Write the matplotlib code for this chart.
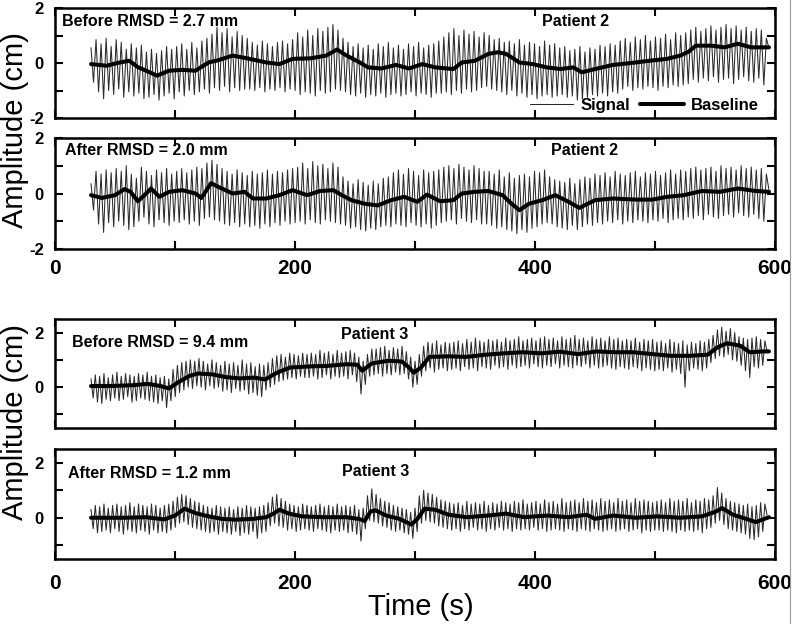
import matplotlib
matplotlib.use('Agg')
import matplotlib.pyplot as plt
from matplotlib.lines import Line2D
import numpy as np

plt.rcParams['font.family'] = ['Liberation Sans', 'DejaVu Sans']

# ---------------- data ----------------
t_start = 30.0
p2_step = 2.1   # s between successive signal extremes (patient 2)
p3_step = 1.8   # s between successive signal extremes (patient 3)

p2_before_signal = [
    0.55, -0.7, 0.85, -1.05, 0.7, -1.3, 0.9, -1.0, 0.6, -1.15, 0.85, -0.95, 0.75, -1.25, 0.5,
    -1.05, 0.7, -1.2, 0.55, -1.1, 0.65, -1.3, 0.4, -1.25, 0.5, -1.15, 0.35, -1.35, 0.45, -1.2, 0.6, -1.1, 0.5, -1.3,
    0.6, -1.05, 0.7, -1.2, 0.5, -1.0, 0.75, -1.15, 0.55, -1.05, 0.8, -0.95, 0.9, -1.1,
    1.05, -0.9, 1.3, -1.0, 1.1, -0.85, 1.25, -1.05, 0.95, -0.9, 1.15, -1.0, 1.0, -0.95, 0.9,
    -0.95, 0.75, -1.0, 0.65, -0.9, 0.8, -1.05, 0.7, -0.95, 0.6, -1.0, 0.75, -0.9, 0.8, -1.05, 0.7, -0.95, 0.85,
    -1.0, 1.1, -1.15, 0.95, -1.05, 1.2, -1.1, 1.0, -1.2, 1.25, -1.0, 1.15, -1.1, 1.3, -1.05, 1.4, -0.95, 1.2, -1.0,
    0.9, -1.05, 0.75, -1.15, 0.6, -1.2, 0.7, -1.1, 0.55, -1.25, 0.65, -1.15, 0.5, -1.2, 0.7, -1.1, 0.6, -1.25, 0.75,
    -1.15, 0.55, -1.1, 0.65, -1.2, 0.5, -1.15, 0.7, -1.05, 0.6, -1.2, 0.75, -1.1, 0.55, -1.15, 0.65, -1.25, 0.7, -1.1,
    0.8, -1.1, 0.95, -1.05, 1.1, -1.15, 1.25, -1.0, 1.0, -1.1, 1.2, -0.95, 1.05, -1.05, 1.15, -1.0, 0.95, -0.9, 1.1,
    -0.85, 1.0, -0.95, 0.85, -1.0, 0.9, -1.05, 0.75, -1.15, 0.8, -1.0, 0.7, -1.2, 0.85, -1.1, 0.65, -1.25, 0.75,
    -1.15, 0.7, -1.3, 0.6, -1.2, 0.8, -1.15, 0.65, -1.25, 0.7, -1.2,
    0.55, -1.15, 0.6, -1.25, 0.45, -1.2, 0.5, -1.35, 0.6, -1.3, 0.4, -1.25, 0.55, -1.15, 0.5, -1.2, 0.65, -1.1,
    0.6, -1.2, 0.7, -1.05, 0.65, -1.1,
    0.8, -0.95, 0.9, -0.85, 0.75, -1.0, 0.95, -0.9, 0.85, -0.95, 1.0, -0.85, 0.8, -0.9, 0.95, -1.0, 0.9, -0.85,
    1.05, -0.9, 0.85, -0.8, 1.1, -0.85,
    1.0, -0.8, 1.1, -0.75, 1.2, -0.6, 1.3, -0.7, 1.15, -0.55, 1.25, -0.65, 1.35, -0.5, 1.2, -0.7, 1.3, -0.6,
    1.4, -0.55, 1.25, -0.75, 1.35, -0.6, 1.2, -0.5, 1.3, -0.65, 1.15, -0.7, 1.25, -0.55, 1.2, -0.8, 0.9, 0.55,
]
p2_before_base_t = [30, 43, 52, 58, 62, 69, 77, 85, 95, 106, 117, 128, 136, 148, 160, 176, 187, 198, 213, 226,
                    235, 243, 254, 261, 272, 284, 295, 306, 317, 332, 339, 350, 361, 369, 376, 387, 398, 410,
                    421, 432, 439, 450, 465, 480, 495, 510, 521, 528, 534, 547, 558, 569, 580, 595]
p2_before_base = [-0.04, -0.1, 0.0, 0.05, 0.08, -0.15, -0.3, -0.46, -0.28, -0.25, -0.28, 0.02, 0.1, 0.27, 0.17,
                  0.02, -0.04, 0.15, 0.17, 0.27, 0.49, 0.27, 0.02, -0.16, -0.2, -0.07, -0.2, -0.04, -0.16, -0.22,
                  0.02, 0.08, 0.33, 0.39, 0.33, 0.02, -0.04, -0.16, -0.22, -0.16, -0.34, -0.22, -0.07, 0.0, 0.08,
                  0.15, 0.27, 0.41, 0.63, 0.63, 0.57, 0.7, 0.57, 0.57]

p2_after_signal = [
    0.35, -0.6, 0.8, -1.1, 0.7, -1.4, 0.85, -1.05, 0.75, -1.2, 0.9, -1.0, 0.8, -1.15, 1.0,
    -1.3, 0.7, -1.2, 0.55, -1.0, 0.95, -0.85, 0.8, -1.1, 0.65, -1.2, 0.85, -0.95, 0.75, -1.05, 0.9, -1.15, 0.7, -1.0,
    0.8, -1.05, 0.9, -0.95, 0.75, -1.1, 0.85, -1.0, 0.95, -1.15, 0.9, -0.9, 1.1, -0.85, 1.2, -0.95, 1.05, -1.0, 0.9,
    -1.1, 0.8, -1.15, 0.7, -1.05, 0.85, -1.2, 0.75, -1.1, 0.65, -1.2, 0.8, -1.15, 0.7, -1.25, 0.75, -1.1, 0.85,
    -1.2, 0.7, -1.05, 0.8, -1.15, 0.75, -1.0, 0.85, -1.1, 0.9,
    -1.05, 0.95, -1.0, 1.1, -1.1, 0.9, -0.95, 1.15, -1.05, 1.0, -1.1, 1.05, -0.95, 0.9, -1.0, 1.1, -1.05, 0.95, -1.1,
    0.6, -1.15, 0.45, -1.25, 0.35, -1.2, 0.5, -1.3, 0.4, -1.35, 0.3, -1.25, 0.45, -1.3, 0.35, -1.2, 0.55, -1.15, 0.6,
    -1.2, 0.75, -1.1, 0.85, -1.15, 0.7, -1.2, 0.9, -1.05, 0.8, -1.15, 0.65, -1.2, 0.85, -1.1, 0.75, -1.25, 0.8, -1.15,
    0.85, -1.05, 0.95, -1.0, 1.0, -0.95, 0.9, -1.1, 1.05, -0.9, 0.95, -1.0, 0.85, -1.05, 1.0, -0.95, 0.9, -1.1, 0.8,
    -1.1, 0.8, -1.15, 0.7, -1.25, 0.85, -1.2, 0.6, -1.3, 0.75, -1.35, 0.55, -1.45, 0.65, -1.3, 0.7, -1.4, 0.6,
    -1.25, 0.8, -1.2, 0.75, -1.1, 0.85,
    -1.05, 0.6, -1.1, 0.5, -1.2, 0.45, -1.25, 0.4, -1.3, 0.55, -1.15, 0.35, -1.3, 0.5, -1.2, 0.6, -1.1, 0.55, -1.15,
    0.7, -1.05, 0.65, -1.1, 0.75, -1.0, 0.6, -1.05, 0.8, -0.95, 0.7, -1.1, 0.65, -1.0, 0.75, -1.05, 0.8, -0.95,
    0.6, -1.0, 0.75, -1.05, 0.7, -0.95, 0.8, -1.0, 0.65, -0.9, 0.75, -1.05, 0.85, -0.95, 0.7, -0.9,
    0.85, -0.95, 0.8, -0.85, 0.9, -0.9, 0.95, -0.8, 0.85, -0.95, 0.9, -0.75, 0.95, -0.85, 0.8, -0.9, 1.0, -0.8,
    0.9, -0.75, 0.95, -0.85, 0.85, -0.7, 1.0, -0.8, 0.9, -0.85, 0.95, -0.75, 0.85, -0.9, 0.9, -1.0, 0.7, 0.15,
]
p2_after_base_t = [30, 39, 50, 58, 63, 69, 76, 80, 87, 95, 106, 117, 122, 130, 139, 148, 158, 165, 176, 187,
                   198, 210, 221, 232, 239, 247, 258, 269, 280, 291, 302, 310, 321, 332, 339, 350, 361, 373,
                   380, 387, 395, 406, 417, 428, 437, 450, 465, 484, 498, 510, 524, 539, 554, 569, 584, 595]
p2_after_base = [-0.06, -0.16, -0.06, 0.16, 0.06, -0.28, 0.0, 0.18, -0.12, 0.06, 0.12, 0.0, -0.16, 0.37, 0.18,
                 0.0, 0.06, -0.18, -0.18, -0.06, 0.12, -0.06, 0.09, 0.12, -0.06, -0.24, -0.37, -0.43, -0.24,
                 -0.12, -0.3, -0.04, -0.28, -0.24, 0.0, 0.06, 0.09, -0.06, -0.35, -0.6, -0.37, -0.24, -0.06,
                 -0.3, -0.52, -0.24, -0.18, -0.22, -0.22, -0.12, -0.06, 0.09, 0.06, 0.18, 0.09, 0.06]

p3_before_signal = [
    0.3, -0.4, 0.45, -0.55, 0.4, -0.6, 0.5, -0.45, 0.35, -0.5, 0.45, -0.4, 0.55, -0.5, 0.4, -0.45, 0.5, -0.35,
    0.45, -0.55, 0.4, -0.5, 0.5, -0.4, 0.45, -0.45, 0.55, -0.5, 0.4, -0.55, 0.45, -0.6, 0.35, -0.5, 0.4, -0.75, 0.3,
    -0.5, 0.65, -0.35, 0.8, -0.2, 0.9, -0.1, 0.95, 0.0, 1.0, -0.05, 0.95, 0.05, 1.05,
    0.0, 0.95, -0.1, 0.85, 0.05, 1.0, -0.05, 0.9, 0.0, 0.8, -0.15, 0.95, -0.1, 0.85, -0.2, 0.9, -0.05, 0.8, -0.15,
    1.0, -0.1, 0.85, -0.25, 0.9, -0.2, 0.75, -0.3, 0.85, -0.35, 0.8,
    -0.1, 0.9, 0.0, 1.05, 0.1, 1.15, 0.2, 1.2, 0.25, 1.1, 0.3, 1.25, 0.35, 1.2, 0.3, 1.15, 0.4, 1.25, 0.35, 1.2,
    0.35, 1.25, 0.4, 1.2, 0.3, 1.35, 0.35, 1.25, 0.45, 1.3, 0.3, 1.2, 0.4, 1.35, 0.35, 1.25, 0.4, 1.3, 0.3, 1.35,
    0.45, 1.25,
    0.2, 1.1, -0.25, 0.95, 0.1, 1.2, 0.4, 1.4,
    0.45, 1.4, 0.5, 1.45, 0.4, 1.5, 0.5, 1.35, 0.45, 1.45, 0.55, 1.4, 0.45, 1.5, 0.5,
    1.3, 0.3, 1.1, 0.0, 0.95, 0.1, 1.2, 0.4,
    1.5, 0.6, 1.65, 0.7, 1.6, 0.55, 1.7, 0.65, 1.55, 0.7, 1.65, 0.6, 1.6,
    0.65, 1.65, 0.7, 1.7, 0.6, 1.6, 0.75, 1.75, 0.65, 1.65, 0.7, 1.8, 0.6, 1.7, 0.75, 1.65, 0.7, 1.75, 0.65, 1.7,
    0.8, 1.75, 0.7, 1.65, 0.75, 1.8, 0.65, 1.7, 0.8, 1.75, 0.7, 1.85, 0.75, 1.7, 0.8, 1.75, 0.7, 1.8, 0.85, 1.7,
    0.75, 1.8, 0.7, 1.85, 0.8, 1.75, 0.75, 1.8, 0.85, 1.7, 0.7, 1.85, 0.8, 1.75, 0.75, 1.8, 0.7, 1.9, 0.8, 1.75,
    0.75, 1.8, 0.85, 1.7, 0.7, 1.85, 0.8, 1.75, 0.7, 1.8, 0.75, 1.7, 0.8, 1.85, 0.7, 1.75, 0.65, 1.8, 0.75, 1.7,
    0.7, 1.75, 0.65, 1.7, 0.75, 1.8, 0.7, 1.65, 0.6, 1.75, 0.7, 1.7, 0.65, 1.75, 0.6,
    1.65, 0.65, 1.7, 0.6, 1.6, 0.7, 1.75, 0.55, 1.65, 0.65, 1.6, 0.5, 1.7, 0.0, 1.55, 0.6, 1.65, 0.7, 1.6, 0.65,
    1.7, 0.6, 1.65, 0.7, 1.75,
    0.9, 1.9, 1.05, 2.1, 1.15, 2.2, 1.1, 2.05, 1.2, 2.15, 1.0, 2.0, 0.95, 1.85, 0.8, 1.8, 0.6, 1.75, 0.35, 1.8,
    0.75, 1.85, 0.7, 1.75, 0.8, 1.7, 1.3,
]
p3_before_base_t = [30, 46, 65, 77, 88, 95, 102, 112, 119, 131, 142, 154, 166, 175, 185, 196, 212, 227, 243, 252,
                    256, 264, 278, 289, 295, 299, 305, 312, 328, 343, 359, 374, 390, 405, 421, 436, 451, 467,
                    482, 498, 513, 529, 544, 552, 560, 571, 579, 590, 595]
p3_before_base = [0.04, 0.04, 0.07, 0.12, 0.04, -0.05, 0.16, 0.41, 0.5, 0.47, 0.37, 0.32, 0.35, 0.28, 0.53,
                  0.72, 0.76, 0.78, 0.84, 0.82, 0.6, 0.87, 0.97, 0.94, 0.72, 0.53, 0.72, 1.11, 1.13, 1.11, 1.19,
                  1.24, 1.28, 1.24, 1.3, 1.21, 1.31, 1.28, 1.28, 1.21, 1.15, 1.15, 1.19, 1.46, 1.61, 1.52, 1.28,
                  1.31, 1.31]

p3_after_signal = [
    0.3, -0.4, 0.45, -0.55, 0.4, -0.5, 0.5, -0.45, 0.35, -0.55, 0.45, -0.4, 0.5, -0.5, 0.4, -0.6, 0.45, -0.45,
    0.55, -0.5, 0.4, -0.55, 0.5, -0.45, 0.45, -0.5, 0.4, -0.6, 0.5, -0.45, 0.45, -0.55, 0.35, -0.5, 0.45, -0.55, 0.5,
    -0.45, 0.6, -0.35, 0.75, -0.2, 0.85, -0.15, 0.8, -0.25, 0.7, -0.35, 0.6, -0.4, 0.55,
    -0.45, 0.45, -0.5, 0.4, -0.55, 0.35, -0.5, 0.45, -0.6, 0.4, -0.5, 0.35, -0.55, 0.4, -0.6, 0.3, -0.5, 0.4,
    -0.65, 0.35, -0.55, 0.45, -0.6, 0.4, -0.5, 0.35, -0.75, 0.4, -0.55, 0.45,
    -0.5, 0.55, -0.3, 0.75, -0.2, 0.85, -0.3, 0.7, -0.35, 0.6, -0.45, 0.5, -0.4, 0.45, -0.5, 0.4, -0.45, 0.5,
    -0.4, 0.45,
    -0.45, 0.4, -0.5, 0.45, -0.4, 0.5, -0.45, 0.4, -0.5, 0.45, -0.55, 0.4, -0.45, 0.5, -0.5, 0.4, -0.45, 0.45,
    -0.55, 0.4, -0.5, 0.45,
    -0.6, 0.3, -0.85, 0.35, -0.4, 0.8, -0.1, 1.05,
    -0.15, 0.85, -0.2, 0.7, -0.3, 0.6, -0.35, 0.55, -0.45, 0.45, -0.5, 0.4, -0.45, 0.35, -0.55,
    0.3, -0.6, 0.2, -0.75, 0.35, -0.5, 0.8, -0.2,
    1.0, -0.1, 0.9, -0.15, 0.85, -0.2, 0.75, -0.3, 0.65, -0.35, 0.6, -0.4, 0.55,
    -0.45, 0.5, -0.4, 0.55, -0.5, 0.45, -0.4, 0.6, -0.45, 0.5, -0.35, 0.55, -0.45, 0.5, -0.4, 0.6, -0.5, 0.45,
    -0.4, 0.55,
    -0.45, 0.5, -0.35, 0.6, -0.45, 0.55, -0.4, 0.5, -0.5, 0.6, -0.4, 0.55, -0.45, 0.65, -0.4, 0.5, -0.45, 0.55,
    -0.35, 0.6,
    -0.45, 0.5, -0.4, 0.65, -0.5, 0.55, -0.45, 0.6, -0.4, 0.5, -0.45, 0.7, -0.5, 0.55, -0.4, 0.6, -0.45, 0.65,
    -0.5, 0.55,
    -0.4, 0.7, -0.45, 0.6, -0.5, 0.65, -0.4, 0.55, -0.45, 0.7, -0.5, 0.6, -0.45, 0.65, -0.4, 0.55, -0.5, 0.7,
    -0.45, 0.6,
    -0.4, 0.65, -0.5, 0.55, -0.45, 0.7, -0.4, 0.6, -0.55, 0.65, -0.45, 0.6, -0.5, 0.55, -0.45,
    0.6, -0.45, 0.65, -0.5, 0.55, -0.45, 0.7, -0.5, 0.6, -0.55, 0.65, -0.45, 0.6, -0.5, 0.7, -0.45, 0.55, -0.5,
    0.65, -0.45, 0.6, -0.55, 0.7, -0.4, 0.65,
    -0.35, 0.8, -0.2, 1.1, -0.1, 0.9, -0.25, 0.7, -0.4, 0.6, -0.45, 0.55, -0.5, 0.5, -0.55, 0.45, -0.6, 0.5,
    -0.75, 0.4, -0.8, 0.45, -0.7, 0.55, -0.5, 0.5, 0.1,
]
p3_after_base_t = [30, 58, 76, 91, 100, 108, 117, 128, 139, 150, 165, 176, 182, 187, 195, 206, 224, 243, 254,
                   258, 263, 267, 276, 287, 297, 302, 308, 317, 328, 343, 361, 376, 391, 410, 428, 443, 450,
                   465, 484, 502, 521, 539, 550, 556, 565, 576, 584, 595]
p3_after_base = [0.0, 0.0, 0.02, -0.06, 0.08, 0.33, 0.17, 0.05, -0.04, -0.07, -0.04, 0.02, 0.15, 0.29, 0.15,
                 0.05, 0.02, 0.02, -0.05, -0.12, 0.23, 0.27, 0.08, -0.04, -0.25, -0.04, 0.33, 0.29, 0.11, 0.02,
                 0.08, 0.15, 0.02, 0.08, 0.02, 0.11, -0.04, 0.08, 0.0, 0.05, 0.0, 0.05, 0.21, 0.35, 0.11, -0.04,
                 -0.16, 0.02]

rmsd_labels = ["Before RMSD = 2.7 mm", "After RMSD = 2.0 mm", "Before RMSD = 9.4 mm", "After RMSD = 1.2 mm"]
patient_labels = ["Patient 2", "Patient 2", "Patient 3", "Patient 3"]
x_ticks = [0, 100, 200, 300, 400, 500, 600]
x_ticklabels = ["0", "", "200", "", "400", "", "600"]
p2_yticks = [-2, -1, 0, 1, 2]
p2_yticklabels = ["-2", "", "0", "", "2"]
p3_yticks = [-1, 0, 1, 2]
p3_yticklabels = ["", "0", "", "2"]

# ---------------- figure ----------------
fig = plt.figure(figsize=(7.93, 6.24), dpi=100)

L, W = 55 / 793, 720 / 793
def frac(top, bottom):
    return [L, 1 - bottom / 624, W, (bottom - top) / 624]

panels = [
    dict(rect=frac(8, 118), sig=p2_before_signal, step=p2_step, bt=p2_before_base_t, bv=p2_before_base,
         ylim=(-2, 2), yt=p2_yticks, ytl=p2_yticklabels, xlab=False,
         txt=(0.010, 0.877), pat=(0.676, 0.877), legend=True),
    dict(rect=frac(138, 249), sig=p2_after_signal, step=p2_step, bt=p2_after_base_t, bv=p2_after_base,
         ylim=(-2, 2), yt=p2_yticks, ytl=p2_yticklabels, xlab=True, xpad=7,
         txt=(0.014, 0.883), pat=(0.689, 0.883), legend=False),
    dict(rect=frac(319, 428), sig=p3_before_signal, step=p3_step, bt=p3_before_base_t, bv=p3_before_base,
         ylim=(-1.5, 2.5), yt=p3_yticks, ytl=p3_yticklabels, xlab=False,
         txt=(0.024, 0.784), pat=(0.397, 0.862), legend=False),
    dict(rect=frac(449, 559), sig=p3_after_signal, step=p3_step, bt=p3_after_base_t, bv=p3_after_base,
         ylim=(-1.5, 2.5), yt=p3_yticks, ytl=p3_yticklabels, xlab=True, xpad=11,
         txt=(0.018, 0.773), pat=(0.399, 0.80), legend=False),
]

for i, p in enumerate(panels):
    ax = fig.add_axes(p['rect'])
    sig = np.asarray(p['sig'])
    t = t_start + p['step'] * np.arange(len(sig))
    ax.plot(t, sig, color='#2a2a2a', lw=0.75, label='Signal')
    ax.plot(p['bt'], p['bv'], color='black', lw=2.9, solid_joinstyle='round',
            solid_capstyle='round', label='Baseline')
    ax.set_xlim(0, 600)
    ax.set_ylim(*p['ylim'])
    ax.set_xticks(x_ticks)
    ax.set_xticklabels(x_ticklabels if p['xlab'] else [''] * len(x_ticks))
    ax.set_yticks(p['yt'])
    ax.set_yticklabels(p['ytl'])
    ax.tick_params(direction='in', top=True, right=True, length=6, width=1.5)
    ax.tick_params(axis='y', labelsize=12, pad=8)
    ax.tick_params(axis='x', labelsize=15, pad=p.get('xpad', 7))
    for lab in ax.get_xticklabels() + ax.get_yticklabels():
        lab.set_fontweight('bold')
    for s in ax.spines.values():
        s.set_linewidth(1.8)
    ax.text(p['txt'][0], p['txt'][1], rmsd_labels[i], transform=ax.transAxes,
            ha='left', va='center', fontsize=11.5, fontweight='bold')
    ax.text(p['pat'][0], p['pat'][1], patient_labels[i], transform=ax.transAxes,
            ha='left', va='center', fontsize=11.5, fontweight='bold')
    if p['legend']:
        ax.legend(loc='lower right', bbox_to_anchor=(0.985, 0.0), ncol=2, frameon=False,
                  prop={'weight': 'bold', 'size': 12}, handlelength=2.6,
                  handletextpad=0.45, columnspacing=0.6, borderaxespad=0.1,
                  borderpad=0.2)

fig.text(0.019, 1 - 130 / 624, 'Amplitude (cm)', rotation=90, ha='center', va='center', fontsize=21)
fig.text(0.019, 1 - 422 / 624, 'Amplitude (cm)', rotation=90, ha='center', va='center', fontsize=21)
fig.text(421 / 793, 1 - 607 / 624, 'Time (s)', ha='center', va='center', fontsize=21)

# thin frame line at the right edge of the original image
fig.add_artist(Line2D([790 / 793, 790 / 793], [0, 1], transform=fig.transFigure, color='#9a9a9a', lw=0.8))

fig.savefig('out.png', dpi=100)
